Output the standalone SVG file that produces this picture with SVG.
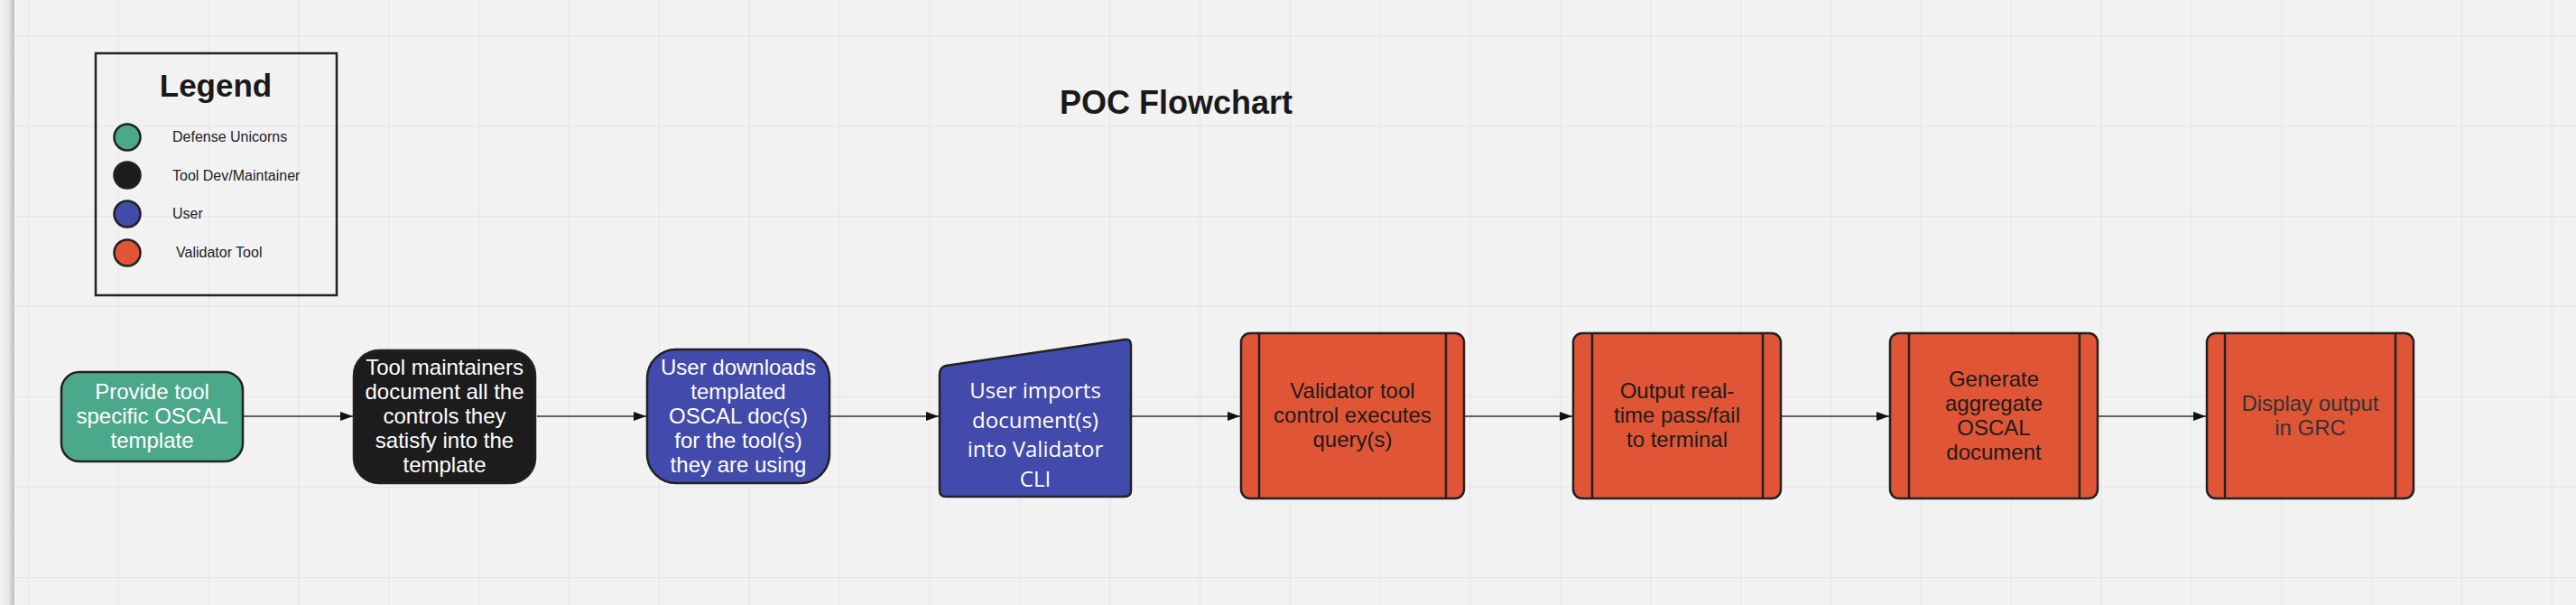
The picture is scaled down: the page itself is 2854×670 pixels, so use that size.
<svg xmlns="http://www.w3.org/2000/svg" width="2854" height="670" viewBox="0 0 2854 670">
<defs>
<pattern id="grid" x="31" y="39" width="99.85" height="100" patternUnits="userSpaceOnUse">
<path d="M0,0 V100 M0,0 H99.85" stroke="#e5e5e5" stroke-width="2" fill="none"/>
</pattern>
<marker id="arrow" markerWidth="14" markerHeight="10" refX="14" refY="5" orient="auto" markerUnits="userSpaceOnUse">
<path d="M0,0 L14,5 L0,10 Z" fill="#111"/>
</marker>
<linearGradient id="edge" x1="0" x2="1" y1="0" y2="0">
<stop offset="0" stop-color="#f2f2f2"/>
<stop offset="0.6" stop-color="#e6e6e6"/>
<stop offset="0.95" stop-color="#bebebe"/>
<stop offset="1" stop-color="#d8d8d8"/>
</linearGradient>
<style>
.t{font-family:"Liberation Sans",Arial,sans-serif;}
.nodeT{font-family:"Liberation Sans",Arial,sans-serif;font-size:24px;text-anchor:middle;}
.w{fill:#ffffff;}
.d{fill:#1c1c1c;}
.stk{stroke:#222222;stroke-width:2.5;}
.orange{fill:#e05536;}
.bar{stroke:#222222;stroke-width:2.5;}
.conn{stroke:#333333;stroke-width:1.5;fill:none;marker-end:url(#arrow);}
.leg{font-family:"Liberation Sans",Arial,sans-serif;font-size:16px;fill:#222222;}
</style>
</defs>
<rect x="0" y="0" width="2854" height="670" fill="#f2f2f2"/>
<rect x="0" y="0" width="2854" height="670" fill="url(#grid)"/>
<rect x="0" y="0" width="16" height="670" fill="url(#edge)"/>

<text class="t" x="1303" y="126" font-size="36" font-weight="bold" text-anchor="middle" fill="#1a1a1a">POC Flowchart</text>

<g id="legend">
<rect x="106" y="59" width="267" height="268" fill="none" stroke="#222222" stroke-width="2.5"/>
<text class="t" x="239" y="107" font-size="35" font-weight="bold" text-anchor="middle" fill="#1a1a1a">Legend</text>
<circle cx="141" cy="152" r="14.5" fill="#4ca88b" class="stk"/>
<circle cx="141" cy="194" r="14.5" fill="#1c1c1c" class="stk"/>
<circle cx="141" cy="237" r="14.5" fill="#424aab" class="stk"/>
<circle cx="141" cy="280" r="14.5" fill="#e05536" class="stk"/>
<text class="leg" x="191" y="157">Defense Unicorns</text>
<text class="leg" x="191" y="200">Tool Dev/Maintainer</text>
<text class="leg" x="191" y="242">User</text>
<text class="leg" x="195" y="285">Validator Tool</text>
</g>

<g id="connectors">
<line class="conn" x1="270" y1="461" x2="391" y2="461"/>
<line class="conn" x1="595" y1="461" x2="716" y2="461"/>
<line class="conn" x1="920" y1="461" x2="1040" y2="461"/>
<line class="conn" x1="1254" y1="461" x2="1374" y2="461"/>
<line class="conn" x1="1623" y1="461" x2="1742" y2="461"/>
<line class="conn" x1="1974" y1="461" x2="2093" y2="461"/>
<line class="conn" x1="2325" y1="461" x2="2444" y2="461"/>
</g>

<g id="node1">
<rect x="68" y="412" width="201" height="99" rx="20" fill="#4ca88b" class="stk"/>
<text class="nodeT w" x="168.5" y="442">Provide tool<tspan x="168.5" dy="27">specific OSCAL</tspan><tspan x="168.5" dy="27">template</tspan></text>
</g>

<g id="node2">
<rect x="392" y="388" width="201" height="147" rx="28" fill="#1c1c1c" class="stk"/>
<text class="nodeT w" x="492.5" y="415">Tool maintainers<tspan x="492.5" dy="27">document all the</tspan><tspan x="492.5" dy="27">controls they</tspan><tspan x="492.5" dy="27">satisfy into the</tspan><tspan x="492.5" dy="27">template</tspan></text>
</g>

<g id="node3">
<rect x="717" y="387" width="202" height="148" rx="32" fill="#424aab" class="stk"/>
<text class="nodeT w" x="818" y="415">User downloads<tspan x="818" dy="27">templated</tspan><tspan x="818" dy="27">OSCAL doc(s)</tspan><tspan x="818" dy="27">for the tool(s)</tspan><tspan x="818" dy="27">they are using</tspan></text>
</g>

<g id="node4">
<path d="M1041,414 Q1041,407 1048,405 L1246,376 Q1253,375 1253,382 L1253,543 Q1253,550 1246,550 L1048,550 Q1041,550 1041,543 Z" fill="#424aab" class="stk"/>
<text x="1147" y="441" font-family="'Open Sans',sans-serif" font-size="24" text-anchor="middle" fill="#ffffff">User imports<tspan x="1147" dy="32.7">document(s)</tspan><tspan x="1147" dy="32.7">into Validator</tspan><tspan x="1147" dy="32.7">CLI</tspan></text>
</g>

<g id="node5">
<rect x="1375" y="369" width="247" height="183" rx="10" class="orange stk"/>
<line class="bar" x1="1395" y1="369" x2="1395" y2="552"/>
<line class="bar" x1="1602" y1="369" x2="1602" y2="552"/>
<text class="nodeT d" x="1498.5" y="441">Validator tool<tspan x="1498.5" dy="27">control executes</tspan><tspan x="1498.5" dy="27">query(s)</tspan></text>
</g>

<g id="node6">
<rect x="1743" y="369" width="230" height="183" rx="10" class="orange stk"/>
<line class="bar" x1="1764" y1="369" x2="1764" y2="552"/>
<line class="bar" x1="1953" y1="369" x2="1953" y2="552"/>
<text class="nodeT d" x="1858" y="441">Output real-<tspan x="1858" dy="27">time pass/fail</tspan><tspan x="1858" dy="27">to terminal</tspan></text>
</g>

<g id="node7">
<rect x="2094" y="369" width="230" height="183" rx="10" class="orange stk"/>
<line class="bar" x1="2115" y1="369" x2="2115" y2="552"/>
<line class="bar" x1="2304" y1="369" x2="2304" y2="552"/>
<text class="nodeT d" x="2209" y="428">Generate<tspan x="2209" dy="27">aggregate</tspan><tspan x="2209" dy="27">OSCAL</tspan><tspan x="2209" dy="27">document</tspan></text>
</g>

<g id="node8">
<rect x="2445" y="369" width="229" height="183" rx="10" class="orange stk"/>
<line class="bar" x1="2465" y1="369" x2="2465" y2="552"/>
<line class="bar" x1="2654" y1="369" x2="2654" y2="552"/>
<text class="nodeT" x="2559.5" y="455" fill="#333333">Display output<tspan x="2559.5" dy="27">in GRC</tspan></text>
</g>
</svg>
